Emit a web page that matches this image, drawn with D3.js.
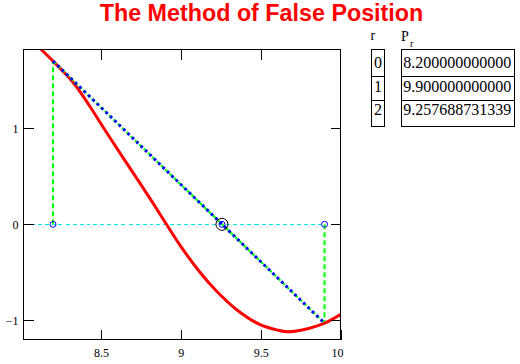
<!DOCTYPE html>
<html>
<head>
<meta charset="utf-8">
<script src="https://cdn.jsdelivr.net/npm/d3@7"></script>
<style>
  body { margin: 0; background: #fff; }
  svg { display: block; }
  .axis text { font-family: "Liberation Serif", "Times New Roman", serif; font-size: 12px; fill: #000; }
  .axis line { stroke: #000; shape-rendering: crispEdges; }
</style>
</head>
<body>
<div id="chart"></div>
<script>
// red curve f(x)
var curveX = [8.10, 8.126, 8.2, 8.33, 8.43, 8.53, 8.64, 8.74, 8.83, 8.91, 9.0, 9.12, 9.22, 9.35, 9.49, 9.6, 9.67, 9.8, 9.9, 10.0];
var curveY = [1.86, 1.82, 1.70, 1.47, 1.23, 0.97, 0.69, 0.44, 0.21, 0, -0.23, -0.50, -0.69, -0.89, -1.04, -1.10, -1.12, -1.085, -1.03, -0.94];

// iterates of the false position method
var rIndex = [0, 1, 2];
var pValues = [8.2, 9.9, 9.257688731339];
var fEnds = [1.70, -1.03];   // f(p0), f(p1)

var xTicks = [8.5, 9, 9.5, 10];
var yTicks = [-1, 0, 1];

var svg = d3.select("#chart").append("svg")
    .attr("width", 520)
    .attr("height", 364);

var x = d3.scaleLinear().domain([8.015, 10]).range([23.5, 340.5]);
var y = d3.scaleLinear().domain([-1.2, 1.821]).range([339.5, 49.5]);

var plotL = x.range()[0], plotR = x.range()[1],
    plotT = y.range()[1], plotB = y.range()[0];

// title
svg.append("text")
    .attr("x", 261.5)
    .attr("y", 20.5)
    .attr("text-anchor", "middle")
    .attr("font-family", "Liberation Sans, Arial, sans-serif")
    .attr("font-weight", "bold")
    .attr("font-size", "23.3px")
    .attr("fill", "#ff0000")
    .text("The Method of False Position");

svg.append("clipPath").attr("id", "plot-clip")
    .append("rect")
    .attr("x", plotL).attr("y", plotT)
    .attr("width", plotR - plotL).attr("height", plotB - plotT);

var plot = svg.append("g").attr("clip-path", "url(#plot-clip)");

// y = 0 line
plot.append("line")
    .attr("x1", plotL).attr("x2", x(pValues[1]))
    .attr("y1", y(0)).attr("y2", y(0))
    .attr("stroke", "#00e8e8")
    .attr("stroke-width", 1)
    .attr("stroke-dasharray", "4,3")
    .attr("shape-rendering", "crispEdges");

// verticals from the end points
plot.selectAll(".vert")
    .data([0, 1])
    .enter().append("line")
    .attr("class", "vert")
    .attr("x1", function(i) { return x(pValues[i]); })
    .attr("x2", function(i) { return x(pValues[i]); })
    .attr("y1", y(0))
    .attr("y2", function(i) { return y(fEnds[i]); })
    .attr("stroke", "#00ff00")
    .attr("stroke-width", 2)
    .attr("stroke-dasharray", "5,3");

// the function
var line = d3.line()
    .x(function(d, i) { return x(curveX[i]); })
    .y(function(d, i) { return y(curveY[i]); })
    .curve(d3.curveCatmullRom);

plot.append("path")
    .datum(curveX)
    .attr("d", line)
    .attr("fill", "none")
    .attr("stroke", "#ff0000")
    .attr("stroke-width", 3);

// secant line
var secant = [[pValues[0], fEnds[0]], [pValues[1], fEnds[1]]];
var sline = d3.line()
    .x(function(d) { return x(d[0]); })
    .y(function(d) { return y(d[1]); });

plot.append("path")
    .datum(secant)
    .attr("d", sline)
    .attr("stroke", "#00ff00")
    .attr("stroke-width", 2)
    .attr("stroke-dasharray", "4,2");

plot.append("path")
    .datum(secant)
    .attr("d", sline)
    .attr("stroke", "#0000ff")
    .attr("stroke-width", 3)
    .attr("stroke-dasharray", "2.6,3.5");

// points on the axis
plot.selectAll(".pt")
    .data(pValues)
    .enter().append("circle")
    .attr("class", "pt")
    .attr("cx", function(d) { return x(d); })
    .attr("cy", y(0))
    .attr("r", 3)
    .attr("fill", "none")
    .attr("stroke", "#0000ff")
    .attr("stroke-width", 1);

plot.append("circle")
    .attr("cx", x(pValues[2]))
    .attr("cy", y(0))
    .attr("r", 6)
    .attr("fill", "none")
    .attr("stroke", "#000")
    .attr("stroke-width", 1);

// axes, ticks pointing inward on all four sides
var fmt = function(d) { return String(d).replace("-", "\u2212"); };

var gx = svg.append("g").attr("class", "axis")
    .attr("transform", "translate(0," + plotB + ")")
    .call(d3.axisBottom(x).tickValues(xTicks).tickSizeInner(-10).tickSizeOuter(0).tickPadding(8.5).tickFormat(fmt));
gx.select(".tick:last-of-type text").attr("text-anchor", "end").attr("dx", 2.5);

svg.append("g").attr("class", "axis")
    .attr("transform", "translate(0," + plotT + ")")
    .call(d3.axisTop(x).tickValues(xTicks.slice(0, 3)).tickSizeInner(-10).tickSizeOuter(0).tickFormat(""));

svg.append("g").attr("class", "axis")
    .attr("transform", "translate(" + plotL + ",0)")
    .call(d3.axisLeft(y).tickValues(yTicks).tickSizeInner(-10).tickSizeOuter(0).tickPadding(5).tickFormat(fmt));

svg.append("g").attr("class", "axis")
    .attr("transform", "translate(" + plotR + ",0)")
    .call(d3.axisRight(y).tickValues(yTicks).tickSizeInner(-10).tickSizeOuter(0).tickFormat(""));

svg.selectAll(".axis .domain").remove();

svg.append("rect")
    .attr("x", plotL).attr("y", plotT)
    .attr("width", plotR - plotL).attr("height", plotB - plotT)
    .attr("fill", "none")
    .attr("stroke", "#000")
    .attr("stroke-width", 1)
    .attr("shape-rendering", "crispEdges");

// table of iterates
var serif = "Liberation Serif, Times New Roman, serif";
var rowY = function(i) { return 68.3 + i * 23.3; };

var table = svg.append("g").attr("font-family", serif).attr("fill", "#000");

table.append("text").attr("x", 370.5).attr("y", 40).attr("font-size", "14px").text("r");
var ph = table.append("text").attr("x", 401).attr("y", 40.5).attr("font-size", "14px");
ph.append("tspan").text("P");
ph.append("tspan").attr("x", 410).attr("y", 46.5).attr("font-size", "10px").text("r");

var boxes = [[371.5, 13], [401.5, 113]];
table.selectAll(".box")
    .data(boxes)
    .enter().append("rect")
    .attr("class", "box")
    .attr("x", function(d) { return d[0]; })
    .attr("y", 49.5)
    .attr("width", function(d) { return d[1]; })
    .attr("height", 77)
    .attr("fill", "none")
    .attr("stroke", "#000")
    .attr("shape-rendering", "crispEdges");

boxes.forEach(function(b) {
    table.selectAll(null)
        .data(rIndex.slice(0, 2))
        .enter().append("line")
        .attr("x1", b[0]).attr("x2", b[0] + b[1])
        .attr("y1", function(i) { return Math.round(rowY(i) + 8) + 0.5; })
        .attr("y2", function(i) { return Math.round(rowY(i) + 8) + 0.5; })
        .attr("stroke", "#000")
        .attr("shape-rendering", "crispEdges");
});

table.selectAll(".ri")
    .data(rIndex)
    .enter().append("text")
    .attr("class", "ri")
    .attr("x", 378)
    .attr("y", function(d, i) { return rowY(i); })
    .attr("text-anchor", "middle")
    .attr("font-size", "16px")
    .text(function(d) { return d; });

table.selectAll(".pv")
    .data(pValues)
    .enter().append("text")
    .attr("class", "pv")
    .attr("x", 403.3)
    .attr("y", function(d, i) { return rowY(i); })
    .attr("font-size", "16px")
    .text(function(d) { return d.toFixed(12); });
</script>
</body>
</html>
